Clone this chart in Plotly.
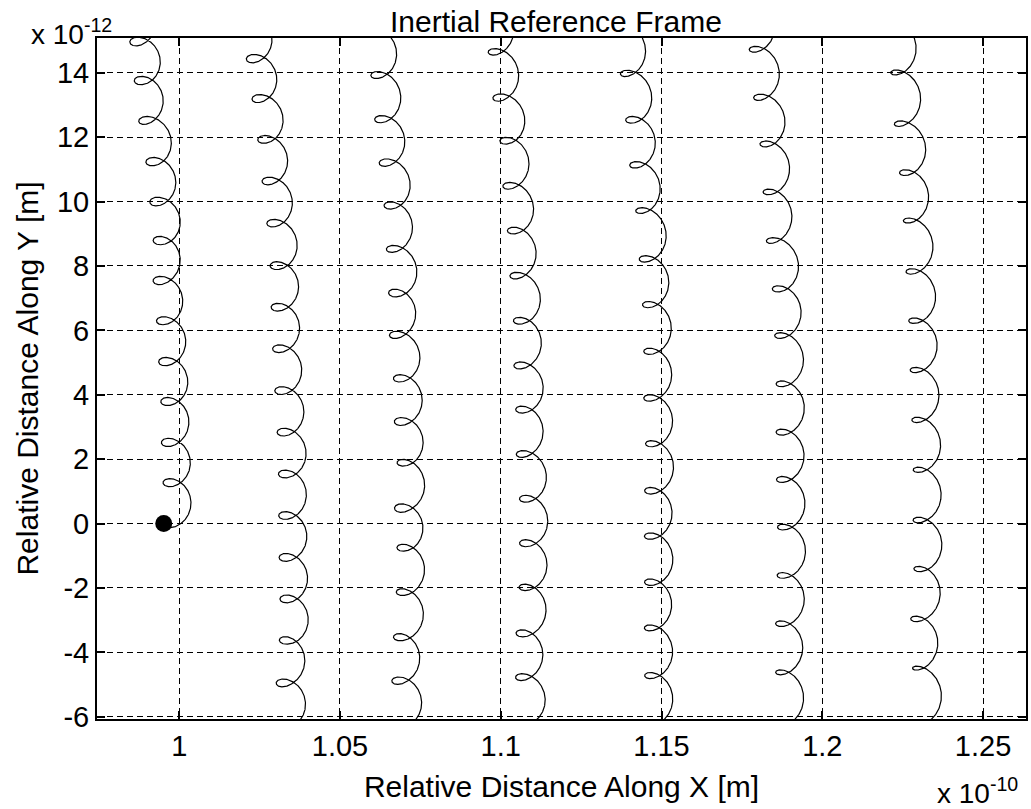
import numpy as np
import plotly.graph_objects as go

# ---------------- data ----------------
# x in units of 1e-10 m, y in units of 1e-12 m
# loop-junction (cusp) points of each trajectory strip, listed bottom -> top
strip1_x = [1.00053, 1.00053, 0.99991, 0.99981, 0.99907, 0.99826, 0.99720, 0.99773,
            0.99618, 0.99494, 0.99214, 0.99152, 0.98997, 0.98850]
strip1_y = [0.00, 1.27, 2.52, 3.79, 5.03, 6.30, 7.55, 8.79, 10.00, 11.24, 12.52,
            13.76, 14.97, 16.25]

strip2_x = [1.03624, 1.03540, 1.03696, 1.03677, 1.03646, 1.03634, 1.03634, 1.03571,
            1.03500, 1.03429, 1.03398, 1.03366, 1.03220, 1.03075, 1.02957, 1.02764,
            1.02609, 1.02450]
strip2_y = [-6.24, -4.95, -3.63, -2.34, -1.05, 0.25, 1.54, 2.84, 4.13, 5.43, 6.72,
            8.01, 9.33, 10.64, 11.93, 13.20, 14.44, 15.70]

strip3_x = [1.07227, 1.07112, 1.07217, 1.07267, 1.07289, 1.07258, 1.07280, 1.07227,
            1.07174, 1.07019, 1.07071, 1.06916, 1.06885, 1.06699, 1.06565, 1.06441,
            1.06326]
strip3_y = [-6.21, -4.88, -3.53, -2.13, -0.75, 0.48, 1.89, 3.17, 4.51, 5.86, 7.16,
            8.53, 9.88, 11.21, 12.56, 13.93, 15.28]

strip4_x = [1.11047, 1.10944, 1.11016, 1.11078, 1.11109, 1.11087, 1.10953, 1.10984,
            1.10901, 1.10901, 1.10745, 1.10696, 1.10528, 1.10457, 1.10217, 1.10062,
            1.09954]
strip4_y = [-6.15, -4.77, -3.41, -1.98, -0.61, 0.77, 2.16, 3.54, 4.91, 6.30, 7.70,
            9.10, 10.49, 11.89, 13.23, 14.65, 16.06]

strip5_x = [1.14960, 1.14950, 1.14929, 1.14981, 1.14950, 1.14981, 1.14981, 1.14929,
            1.14929, 1.14876, 1.14773, 1.14618, 1.14463, 1.14360, 1.14152, 1.13997]
strip5_y = [-6.18, -4.72, -3.24, -1.82, -0.39, 1.02, 2.48, 3.90, 5.35, 6.80, 8.22,
            9.72, 11.14, 12.54, 13.98, 15.43]

strip6_x = [1.18966, 1.18966, 1.19019, 1.19068, 1.19068, 1.19037, 1.19037, 1.19019,
            1.18966, 1.18913, 1.18655, 1.18602, 1.18500, 1.18292, 1.18158, 1.18034]
strip6_y = [-6.22, -4.62, -3.11, -1.61, -0.11, 1.37, 2.84, 4.34, 5.84, 7.29, 8.79,
            10.30, 11.79, 13.24, 14.73, 16.21]

strip7_x = [1.23220, 1.23158, 1.23211, 1.23314, 1.23261, 1.23261, 1.23211, 1.23158,
            1.23127, 1.23025, 1.22919, 1.22848, 1.22640, 1.22522, 1.22382]
strip7_y = [-6.20, -4.49, -2.96, -1.41, 0.11, 1.67, 3.22, 4.77, 6.30, 7.83, 9.41,
            10.90, 12.42, 14.01, 15.56]

# starting position (black dot)
start_x = [0.9952]
start_y = [0.0]

# gyration radii of the small loops
gyro_rx = 0.00435   # along x (1e-10 m)
gyro_ry = 0.39      # along y (1e-12 m)

x_tickvals = [1.0, 1.05, 1.1, 1.15, 1.2, 1.25]
x_ticktext = ["1", "1.05", "1.1", "1.15", "1.2", "1.25"]
y_tickvals = [-6, -4, -2, 0, 2, 4, 6, 8, 10, 12, 14]
y_ticktext = ["-6", "-4", "-2", "0", "2", "4", "6", "8", "10", "12", "14"]

x_range = [0.97444, 1.26335]
y_range = [-6.07, 15.08]

# ---------------- trajectory shape ----------------
A_GRID = np.linspace(0.01, np.pi - 0.01, 4000)
F_GRID = np.sin(A_GRID) / A_GRID


def trajectory(cx, cy, lead_in=False):
    cx = np.asarray(cx, float)
    cy = np.asarray(cy, float)
    xs, ys = [], []
    for k in range(len(cy) - 1):
        dY = cy[k + 1] - cy[k]
        dX = cx[k + 1] - cx[k]
        v = dY / (2 * np.pi)
        alpha = np.interp(v / gyro_ry, F_GRID[::-1], A_GRID[::-1])
        if k == 0 and lead_in:
            ph = np.linspace(np.pi, np.pi + alpha, 80)
            pe = np.pi + alpha
            xs.append(cx[0] + gyro_rx * (np.cos(ph) - np.cos(pe)))
            ys.append(cy[0] + v * (ph - pe) + gyro_ry * (np.sin(ph) - np.sin(pe)))
        ps = -np.pi + alpha
        ph = np.linspace(ps, ps + 2 * np.pi, 500)
        s = (ph - ps) / (2 * np.pi)
        xs.append(cx[k] + s * dX + gyro_rx * (np.cos(ph) - np.cos(ps)))
        ys.append(cy[k] + v * (ph - ps) + gyro_ry * (np.sin(ph) - np.sin(ps)))
    return np.concatenate(xs), np.concatenate(ys)


strips = [(strip1_x, strip1_y, True), (strip2_x, strip2_y, False),
          (strip3_x, strip3_y, False), (strip4_x, strip4_y, False),
          (strip5_x, strip5_y, False), (strip6_x, strip6_y, False),
          (strip7_x, strip7_y, False)]

FONT = "Arial, 'Liberation Sans', sans-serif"

fig = go.Figure()
for sx, sy, lead in strips:
    tx, ty = trajectory(sx, sy, lead)
    fig.add_trace(go.Scatter(x=tx, y=ty, mode="lines",
                             line=dict(color="black", width=1.2),
                             hoverinfo="skip"))
fig.add_trace(go.Scatter(x=start_x, y=start_y, mode="markers",
                         marker=dict(size=17, color="black")))

axis_common = dict(showgrid=True, gridcolor="black", griddash="6px,4px", gridwidth=1.3,
                   showline=True, mirror="ticks", linecolor="black", linewidth=2,
                   ticks="inside", ticklen=8, tickwidth=1.5, tickcolor="black",
                   zeroline=False, tickfont=dict(size=29, family=FONT, color="black"))

fig.update_xaxes(range=x_range, tickmode="array", tickvals=x_tickvals,
                 ticktext=x_ticktext,
                 title=dict(text="Relative Distance Along X [m]", standoff=15,
                            font=dict(size=30, family=FONT, color="black")),
                 **axis_common)
fig.update_yaxes(range=y_range, tickmode="array", tickvals=y_tickvals,
                 ticktext=y_ticktext,
                 title=dict(text="Relative Distance Along Y [m]", standoff=9,
                            font=dict(size=30, family=FONT, color="black")),
                 **axis_common)

fig.update_layout(
    width=1031, height=809,
    margin=dict(l=97, r=3, t=38, b=90),
    paper_bgcolor="white", plot_bgcolor="white",
    showlegend=False,
    font=dict(family=FONT, size=29, color="black"),
    title=dict(text="Inertial Reference Frame", x=0.494, xref="paper",
               xanchor="center", y=1.0, yref="paper", yanchor="bottom",
               pad=dict(b=6, t=0), font=dict(size=30, family=FONT, color="black")),
    annotations=[
        dict(text="x 10<sup>-12</sup>", xref="paper", yref="paper",
             x=-0.0735, y=1.009, xanchor="left", yanchor="middle",
             showarrow=False, font=dict(size=28, family=FONT, color="black")),
        dict(text="x 10<sup>-10</sup>", xref="paper", yref="paper",
             x=0.902, y=-0.106, xanchor="left", yanchor="middle",
             showarrow=False, font=dict(size=28, family=FONT, color="black")),
    ],
)

fig.write_html("out.html")
